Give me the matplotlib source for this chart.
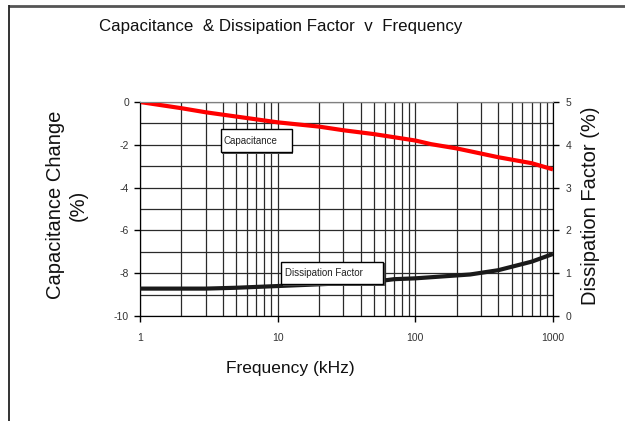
import numpy as np
import matplotlib
matplotlib.use('Agg')
import matplotlib.pyplot as plt
from matplotlib.ticker import LogLocator, FixedLocator, NullFormatter
from matplotlib.patches import Rectangle
from matplotlib.lines import Line2D

plt.rcParams['font.family'] = ['Liberation Sans', 'DejaVu Sans']
plt.rcParams['axes.unicode_minus'] = False

# data
freq_cap = [1, 2, 3, 5, 10, 20, 30, 50, 100, 130, 200, 400, 700, 1000]
cap_change = [0, -0.29, -0.48, -0.68, -0.95, -1.15, -1.32, -1.5, -1.8, -1.97, -2.17, -2.58, -2.86, -3.15]

freq_df = [1, 3, 5, 10, 20, 50, 70, 100, 250, 400, 700, 1000]
diss_factor = [0.64, 0.64, 0.66, 0.70, 0.74, 0.80, 0.86, 0.88, 0.97, 1.07, 1.27, 1.45]

left_ticks = [0, -2, -4, -6, -8, -10]
right_ticks = [0, 1, 2, 3, 4, 5]
x_ticks = [1, 10, 100, 1000]

fig = plt.figure(figsize=(6.25, 4.21), dpi=100)
ax = fig.add_axes([140/625, 1-316/421, 413/625, 214/421])
ax2 = ax.twinx()

ax.set_xscale('log')
ax.set_xlim(1, 1000)
ax.set_ylim(-10, 0)
ax2.set_ylim(0, 5)

# grid
ax.xaxis.set_major_locator(FixedLocator(x_ticks))
ax.xaxis.set_minor_locator(LogLocator(base=10, subs=np.arange(2, 10)))
ax.xaxis.set_minor_formatter(NullFormatter())
ax.set_xticklabels([str(t) for t in x_ticks])
ax.yaxis.set_major_locator(FixedLocator(left_ticks))
ax.yaxis.set_minor_locator(FixedLocator(np.arange(-9, 0, 2)))
ax.grid(True, which='both', color='#2a2a2a', lw=0.9)
ax.set_axisbelow(True)

ax.tick_params(axis='x', which='major', direction='out', length=4, width=1,
               labelsize=7.5, labelcolor='#333333', pad=8)
ax.tick_params(axis='x', which='minor', length=0)
ax.tick_params(axis='y', which='major', direction='out', length=4, width=1,
               labelsize=7.5, labelcolor='#333333', pad=4)
ax.tick_params(axis='y', which='minor', length=0)
ax2.yaxis.set_major_locator(FixedLocator(right_ticks))
ax2.tick_params(axis='y', direction='out', length=4, width=1,
                labelsize=7.5, labelcolor='#333333', pad=5)

for s in ['left', 'right', 'bottom']:
    ax.spines[s].set_color('black')
    ax2.spines[s].set_color('black')
ax.spines['top'].set_color('#808080')
ax2.spines['top'].set_color('#808080')

ax.plot(freq_cap, cap_change, color='#ff0000', lw=3, solid_capstyle='butt', zorder=3)
ax2.plot(freq_df, diss_factor, color='#1a1a1a', lw=3, solid_capstyle='butt', zorder=3)

# text boxes
def label_box(x0, y0, w, h, txt):
    ax2.add_patch(Rectangle((x0 + 0.004, y0 - 0.008), w, h, transform=ax2.transAxes,
                            facecolor='#555555', edgecolor='none', zorder=4))
    ax2.add_patch(Rectangle((x0, y0), w, h, transform=ax2.transAxes,
                            facecolor='white', edgecolor='black', lw=1.0, zorder=5))
    ax2.text(x0 + 0.008, y0 + h/2, txt, transform=ax2.transAxes, fontsize=7,
             color='#222222', ha='left', va='center', zorder=6)

label_box(0.195, 0.766, 0.172, 0.108, 'Capacitance')
label_box(0.342, 0.148, 0.247, 0.106, 'Dissipation Factor')

# titles and axis labels
fig.text(281/625, 1-27/421, 'Capacitance  & Dissipation Factor  v  Frequency',
         fontsize=12.2, ha='center', va='center', color='#111111')
fig.text(290/625, 1-369/421, 'Frequency (kHz)', fontsize=12.5,
         ha='center', va='center', color='#111111')
fig.text(67/625, 1-205/421, 'Capacitance Change\n(%)', fontsize=14.5, rotation=90,
         ha='center', va='center', multialignment='center', color='#111111',
         linespacing=1.25)
fig.text(591/625, 1-206/421, 'Dissipation Factor (%)', fontsize=14.5, rotation=90,
         ha='center', va='center', color='#111111')

# outer frame (top and left only)
fig.add_artist(Line2D([9/625, 1], [1-5.5/421, 1-5.5/421], transform=fig.transFigure,
                      color='#555555', lw=2, solid_capstyle='butt'))
fig.add_artist(Line2D([9/625, 9/625], [0, 1-5/421], transform=fig.transFigure,
                      color='#111111', lw=1.2, solid_capstyle='butt'))

fig.savefig('out.png', dpi=100)
